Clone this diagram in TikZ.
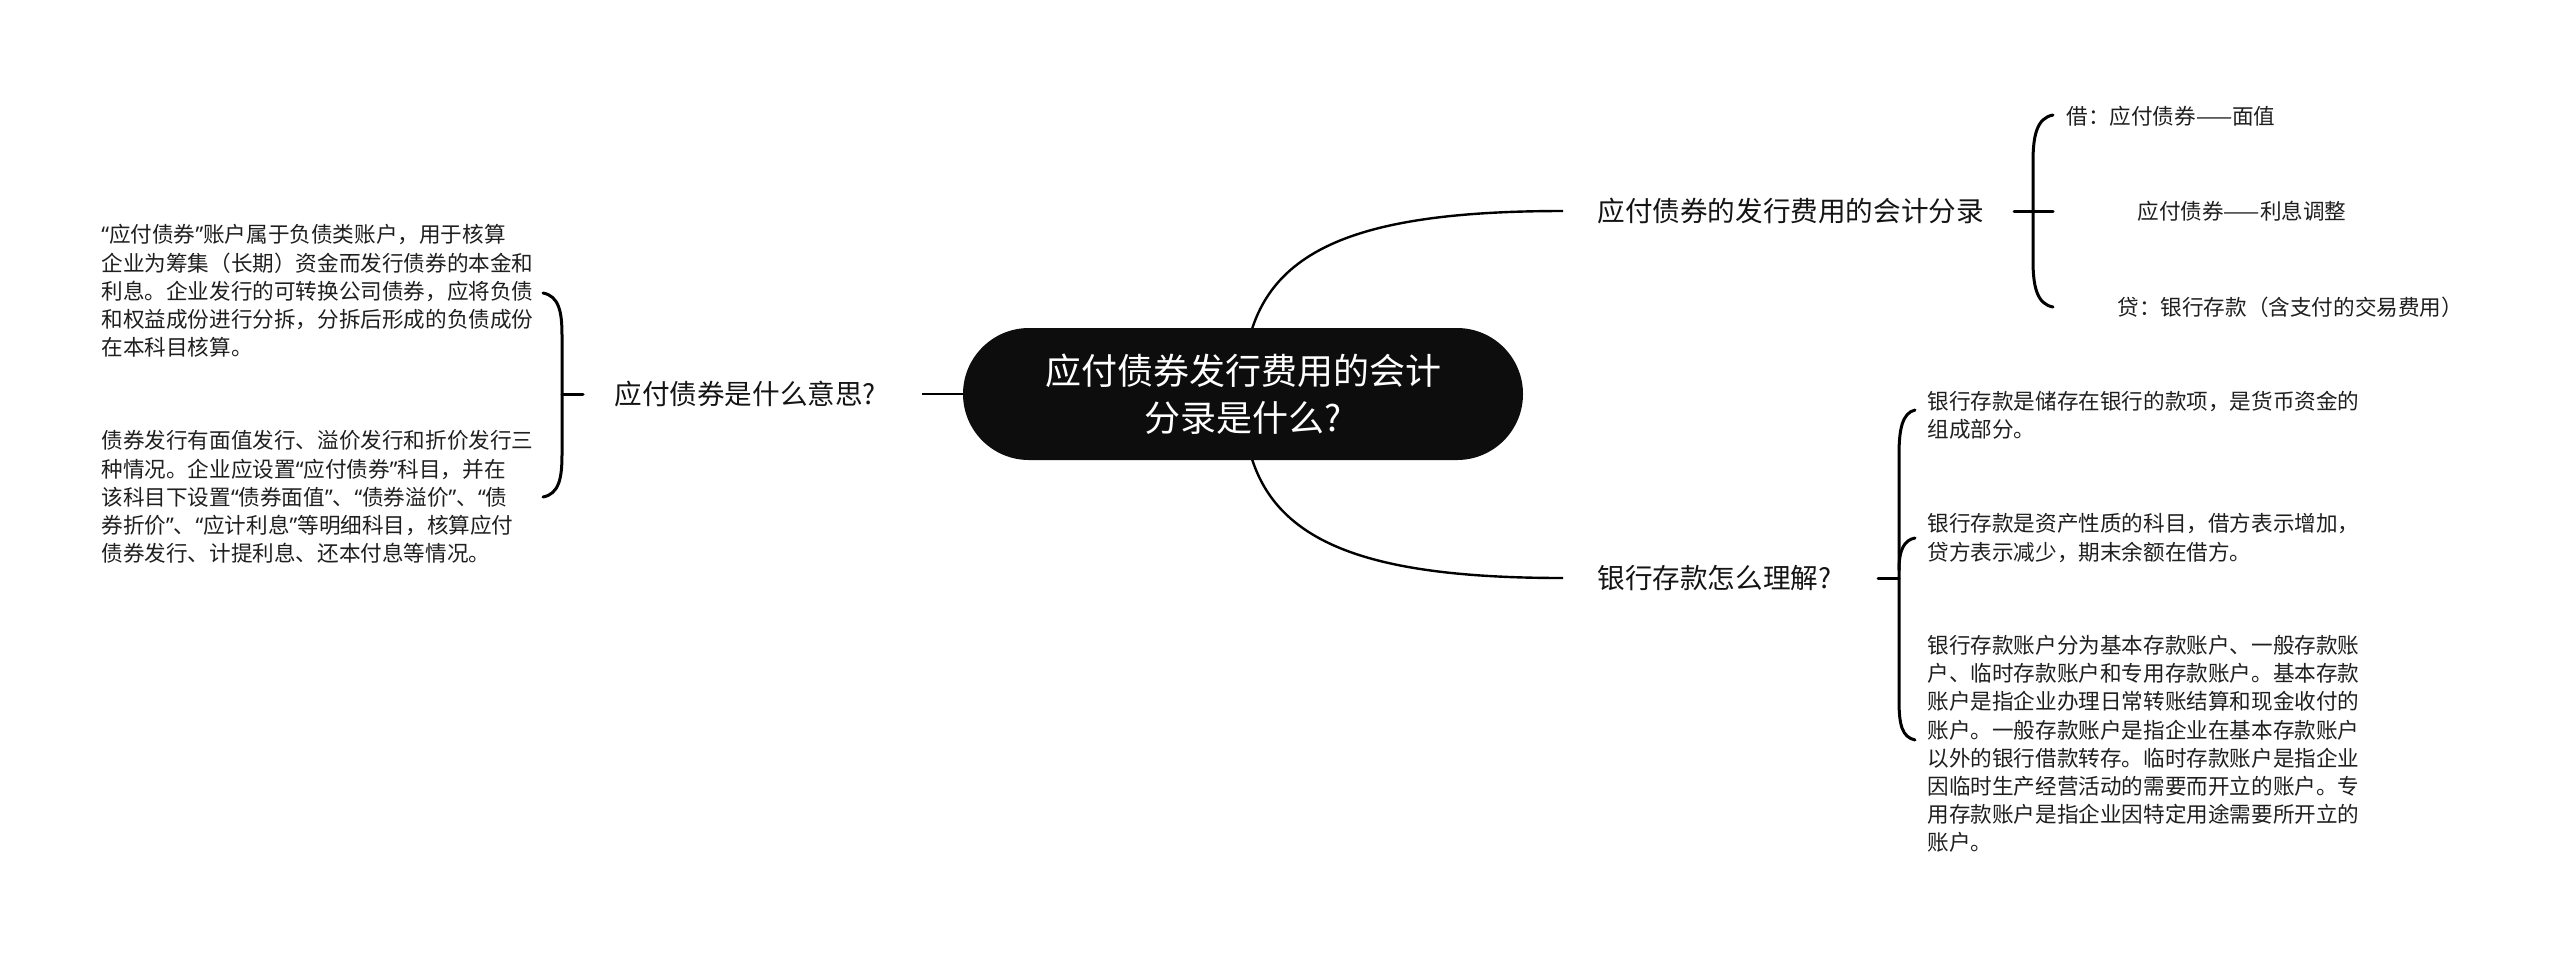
\documentclass[tikz,border=0pt]{standalone}
\usepackage{fontspec}
\newfontfamily\cjk{Noto Sans CJK SC}
\newfontfamily\latq{Noto Sans}
\newcommand\qL{{\latq “}}
\newcommand\qR{{\latq ”}}
\usetikzlibrary{backgrounds}
\begin{document}
\begin{tikzpicture}[x=0.5pt,y=-0.5pt,
  conn/.style={line width=1.2pt, draw=black},
  brace/.style={line width=1.5pt, draw=black, line cap=round},
  small/.style={font=\cjk\fontsize{10.8pt}{14.1pt}\selectfont, align=left, anchor=west, inner sep=0pt, text=black!88},
  branch/.style={font=\cjk\fontsize{13.8pt}{17pt}\selectfont, anchor=west, inner sep=0pt, text=black!92},
  root/.style={fill=black!95, text=white, rounded corners=33pt, minimum width=280pt, minimum height=66pt, align=center, inner sep=0pt, font=\cjk\fontsize{18pt}{23.5pt}\selectfont}]
\useasboundingbox (0,0) rectangle (2560,955);

% root
\node[root] (c) at (1243,394) {应付债券发行费用的会计\\分录是什么?};

% branches
\node[branch] (L)  at (614,394)  {应付债券是什么意思?};
\node[branch] (R1) at (1597,211) {应付债券的发行费用的会计分录};
\node[branch] (R2) at (1597,578) {银行存款怎么理解?};

% left leaves
\node[small] (L1) at (101,291) {\qL 应付债券\qR 账户属于负债类账户，用于核算\\企业为筹集（长期）资金而发行债券的本金和\\利息。企业发行的可转换公司债券，应将负债\\和权益成份进行分拆，分拆后形成的负债成份\\在本科目核算。};
\node[small] (L2) at (101,497) {债券发行有面值发行、溢价发行和折价发行三\\种情况。企业应设置\qL 应付债券\qR 科目，并在\\该科目下设置\qL 债券面值\qR 、\qL 债券溢价\qR 、\qL 债\\券折价\qR 、\qL 应计利息\qR 等明细科目，核算应付\\债券发行、计提利息、还本付息等情况。};

% top-right leaves
\node[small] (T1) at (2066,116) {借：应付债券——面值};
\node[small] (T2) at (2137,211) {应付债券——利息调整};
\node[small] (T3) at (2117,307) {贷：银行存款（含支付的交易费用）};

% bottom-right leaves
\node[small] (B1) at (1927,415) {银行存款是储存在银行的款项，是货币资金的\\组成部分。};
\node[small] (B2) at (1927,538) {银行存款是资产性质的科目，借方表示增加，\\贷方表示减少，期末余额在借方。};
\node[small] (B3) at (1927,744) {银行存款账户分为基本存款账户、一般存款账\\户、临时存款账户和专用存款账户。基本存款\\账户是指企业办理日常转账结算和现金收付的\\账户。一般存款账户是指企业在基本存款账户\\以外的银行借款转存。临时存款账户是指企业\\因临时生产经营活动的需要而开立的账户。专\\用存款账户是指企业因特定用途需要所开立的\\账户。};

% connectors from root
\begin{scope}[on background layer]
\fill[white] (0,0) rectangle (2560,955);
\draw[conn] (c.center) .. controls +(0,-134) and +(-233,0) .. ([xshift=-17pt]R1.west);
\draw[conn] (c.center) .. controls +(0,134) and +(-233,0) .. ([xshift=-17pt]R2.west);
\end{scope}
\coordinate (Lend) at (922,394);
\draw[conn] (c.west) -- (Lend);

% left bracket
\coordinate (Lk) at (562,394);
\draw[brace] ([xshift=-15.5pt]L.west) -- (Lk);
\draw[brace] (543,293) .. controls (559,296) and (562,312) .. (562,335) -- (562,455) .. controls (562,478) and (559,494) .. (543,497);

% top-right bracket
\coordinate (Tt) at (2014,211);
\coordinate (Tk) at (2053,211);
\draw[brace] (Tt) -- (Tk);
\draw[brace] (2053,115) .. controls (2037,118) and (2033,135) .. (2033,162) -- (2033,260) .. controls (2033,287) and (2037,304) .. (2053,307);

% bottom-right bracket
\coordinate (Bk) at (1899,578);
\coordinate (Bt) at (1878,578);
\draw[brace] (Bt) -- (Bk);
\draw[brace] (1915,410) .. controls (1902,413) and (1899,430) .. (1899,455) -- (1899,700) .. controls (1899,725) and (1902,737) .. (1915,740);
\draw[brace] (1899,570) .. controls (1899,550) and (1904,540) .. (1915,538);
\end{tikzpicture}
\end{document}
